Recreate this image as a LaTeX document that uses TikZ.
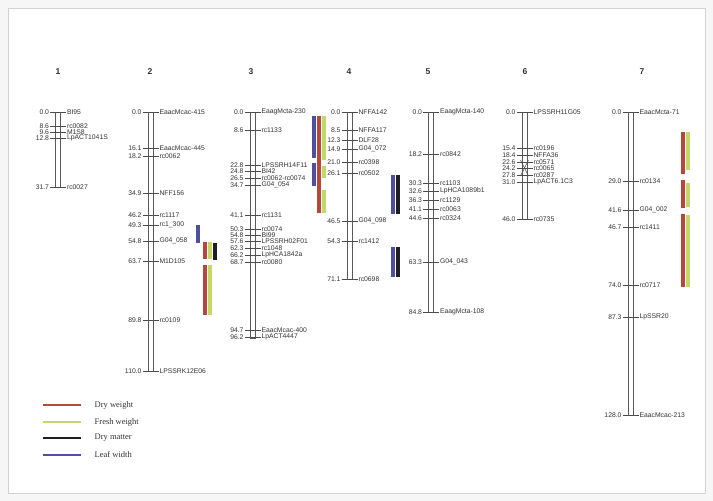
\documentclass[tikz,border=0pt]{standalone}
\usepackage{fontspec}
\setmainfont{Liberation Sans}
\newfontfamily\legfont{Liberation Serif}
\definecolor{qred}{HTML}{B5473B}
\definecolor{qgreen}{HTML}{C2D96A}
\definecolor{qblack}{HTML}{1E1E24}
\definecolor{qblue}{HTML}{4F4F9E}
\newcommand\mk[5]{%
  \node[numlab] (#1n) at (#2-8,#3) {#4};
  \node[namelab] (#1m) at (#2+8,#3) {#5};
  \draw[tickl] (#1n.east) -- (#1m.west);}
\newcommand\chrbar[3]{\draw[chrom] (#1-2.6,#2) rectangle (#1+2.6,#3);}
\begin{document}
\begin{tikzpicture}[x=1pt,y=-1pt,
  chrom/.style={draw=black!65, line width=0.6pt, fill=white},
  numlab/.style={font=\fontsize{6.8}{7}\selectfont, text=black!80, inner sep=0.8pt, anchor=east},
  namelab/.style={font=\fontsize{6.8}{7}\selectfont, text=black!80, inner sep=0.8pt, anchor=west},
  tickl/.style={draw=black!70, line width=0.55pt},
  title/.style={font=\fontsize{8.5}{9}\selectfont\bfseries, text=black!80},
  qtl/.style={line width=3.4pt},
  legtxt/.style={font=\legfont\fontsize{8.5}{9}\selectfont, text=black!80, anchor=west, inner sep=0.5pt}]
\useasboundingbox (0,0) rectangle (713,501);
\fill[gray!7] (0,0) rectangle (713,501);
\draw[gray!35, fill=white, line width=0.6pt] (8,8) rectangle (705,493);

% titles
\node[title] (t1) at (58,72) {1};
\node[title] (t2) at (150,72) {2};
\node[title] (t3) at (251,72) {3};
\node[title] (t4) at (349,72) {4};
\node[title] (t5) at (428,72) {5};
\node[title] (t6) at (525,72) {6};
\node[title] (t7) at (642,72) {7};

% QTL bars
\draw[qtl, qblue] (198,225) -- (198,243);
\draw[qtl, qred] (205,242) -- (205,259);
\draw[qtl, qred] (205,265) -- (205,315);
\draw[qtl, qgreen] (210,242) -- (210,259);
\draw[qtl, qgreen] (210,265) -- (210,315);
\draw[qtl, qblack] (215,243) -- (215,260);

\draw[qtl, qblue] (314,116) -- (314,158);
\draw[qtl, qblue] (314,163) -- (314,186);
\draw[qtl, qred] (319,116) -- (319,213);
\draw[qtl, qgreen] (324,116) -- (324,160);
\draw[qtl, qgreen] (324,166) -- (324,178);
\draw[qtl, qgreen] (324,190) -- (324,213);

\draw[qtl, qblue] (393,175) -- (393,214);
\draw[qtl, qblack] (398,175) -- (398,214);
\draw[qtl, qblue] (393,247) -- (393,277);
\draw[qtl, qblack] (398,247) -- (398,277);

\draw[qtl, qred] (683,132) -- (683,174);
\draw[qtl, qred] (683,180) -- (683,208);
\draw[qtl, qred] (683,214) -- (683,287);
\draw[qtl, qgreen] (688,132) -- (688,170);
\draw[qtl, qgreen] (688,183) -- (688,207);
\draw[qtl, qgreen] (688,215) -- (688,287);

% chromosome 1
\chrbar{58}{112}{187}
\mk{a1}{58}{112}{0.0}{BI95}
\mk{a2}{58}{126}{8.6}{rc0082}
\mk{a3}{58}{132}{9.6}{M1S8}
\mk{a4}{58}{138}{12.8}{LpACT1041S}
\mk{a5}{58}{187}{31.7}{rc0027}

% chromosome 2
\chrbar{150.5}{112}{371}
\mk{b1}{150.5}{112}{0.0}{EaacMcac-415}
\mk{b2}{150.5}{148}{16.1}{EaacMcac-445}
\mk{b3}{150.5}{156}{18.2}{rc0062}
\mk{b4}{150.5}{193}{34.9}{NFF156}
\mk{b5}{150.5}{215}{46.2}{rc1117}
\mk{b6}{150.5}{225}{49.3}{rc1\_300}
\mk{b7}{150.5}{241}{54.8}{G04\_058}
\mk{b8}{150.5}{261}{63.7}{M1D105}
\mk{b9}{150.5}{320}{89.8}{rc0109}
\mk{b10}{150.5}{371}{110.0}{LPSSRK12E06}

% chromosome 3
\chrbar{252.5}{112}{338}
\mk{c1}{252.5}{112}{0.0}{EaagMcta-230}
\mk{c2}{252.5}{130}{8.6}{rc1133}
\mk{c3}{252.5}{165}{22.8}{LPSSRH14F11}
\mk{c4}{252.5}{171}{24.8}{BI42}
\mk{c5}{252.5}{178}{26.5}{rc0062-rc0074}
\mk{c6}{252.5}{185}{34.7}{G04\_054}
\mk{c7}{252.5}{215}{41.1}{rc1131}
\mk{c8}{252.5}{229}{50.3}{rc0074}
\mk{c9}{252.5}{235}{54.8}{BI99}
\mk{c10}{252.5}{241}{57.6}{LPSSRH02F01}
\mk{c11}{252.5}{248}{62.3}{rc1048}
\mk{c12}{252.5}{255}{66.2}{LpHCA1842a}
\mk{c13}{252.5}{262}{68.7}{rc0080}
\mk{c14}{252.5}{330}{94.7}{EaacMcac-400}
\mk{c15}{252.5}{337}{96.2}{LpACT4447}

% chromosome 4
\chrbar{349.5}{112}{279}
\mk{d1}{349.5}{112}{0.0}{NFFA142}
\mk{d2}{349.5}{130}{8.5}{NFFA117}
\mk{d3}{349.5}{140}{12.3}{DLF28}
\mk{d4}{349.5}{149}{14.9}{G04\_072}
\mk{d5}{349.5}{162}{21.0}{rc0398}
\mk{d6}{349.5}{173}{26.1}{rc0502}
\mk{d7}{349.5}{221}{46.5}{G04\_098}
\mk{d8}{349.5}{241}{54.3}{rc1412}
\mk{d9}{349.5}{279}{71.1}{rc0698}

% chromosome 5
\chrbar{431}{112}{312}
\mk{e1}{431}{112}{0.0}{EaagMcta-140}
\mk{e2}{431}{154}{18.2}{rc0842}
\mk{e3}{431}{183}{30.3}{rc1103}
\mk{e4}{431}{191}{32.6}{LpHCA1089b1}
\mk{e5}{431}{200}{36.3}{rc1129}
\mk{e6}{431}{209}{41.1}{rc0063}
\mk{e7}{431}{218}{44.6}{rc0324}
\mk{e8}{431}{262}{63.3}{G04\_043}
\mk{e9}{431}{312}{84.8}{EaagMcta-108}

% chromosome 6
\chrbar{524.5}{112}{219}
\mk{f1}{524.5}{112}{0.0}{LPSSRH11G05}
\mk{f2}{524.5}{148}{15.4}{rc0196}
\mk{f3}{524.5}{155}{18.4}{NFFA36}
\mk{f4}{524.5}{162}{22.6}{rc0571}
\mk{f5}{524.5}{168}{24.2}{rc0065}
\mk{f6}{524.5}{175}{27.8}{rc0287}
\mk{f7}{524.5}{182}{31.0}{LpACT6.1C3}
\mk{f8}{524.5}{219}{46.0}{rc0735}
\draw[tickl] (520.5,160) -- (528.5,176);
\draw[tickl] (528.5,160) -- (520.5,176);

% chromosome 7
\chrbar{630.5}{112}{415}
\mk{g1}{630.5}{112}{0.0}{EaacMcta-71}
\mk{g2}{630.5}{181}{29.0}{rc0134}
\mk{g3}{630.5}{210}{41.6}{G04\_002}
\mk{g4}{630.5}{227}{46.7}{rc1411}
\mk{g5}{630.5}{285}{74.0}{rc0717}
\mk{g6}{630.5}{317}{87.3}{LpSSR20}
\mk{g7}{630.5}{415}{128.0}{EaacMcac-213}

% legend
\draw[qtl, qred, line width=2.6pt] (43,405) -- (81,405);
\draw[qtl, qgreen, line width=2.6pt] (43,422) -- (81,422);
\draw[qtl, qblack, line width=2.6pt] (43,438) -- (81,438);
\draw[qtl, qblue, line width=2.6pt] (43,455) -- (81,455);
\node[legtxt] (l1) at (94,405) {Dry weight};
\node[legtxt] (l2) at (94,422) {Fresh weight};
\node[legtxt] (l3) at (94,438) {Dry matter};
\node[legtxt] (l4) at (94,455) {Leaf width};
\end{tikzpicture}
\end{document}
